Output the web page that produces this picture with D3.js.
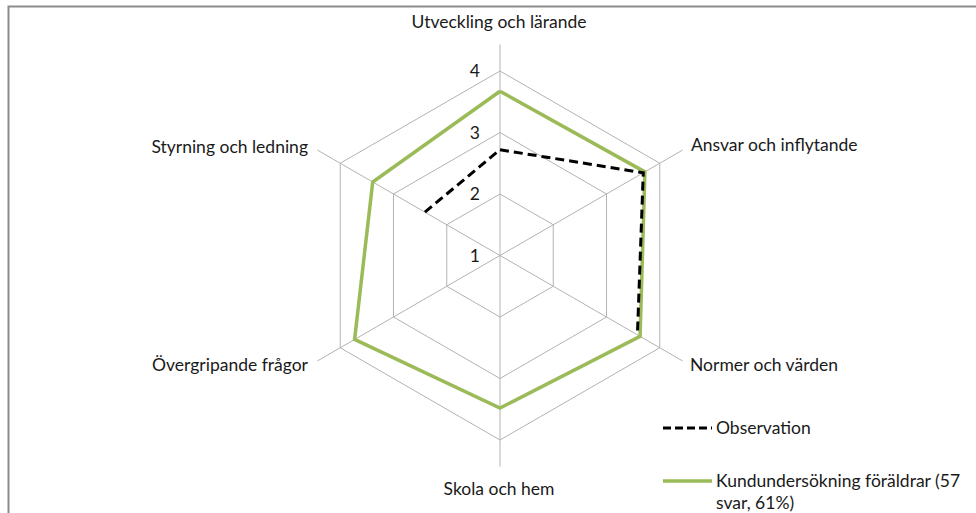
<!DOCTYPE html>
<html>
<head>
    <meta charset="utf-8">
    <title>Radar</title>
    <script src="https://d3js.org/d3.v7.min.js"></script>
    <style type="text/css">
        body{ margin:0; background:#fff; }
        text{
            font-family: Lato, "Open Sans", sans-serif;
            font-size: 17.5px;
            fill: #1a1a1a;
        }
    </style>
</head>
<body>
<script>
    var w = 976;
    var h = 513;
    var categories = ["Utveckling och lärande", "Ansvar och inflytande", "Normer och värden",
                      "Skola och hem", "Övergripande frågor", "Styrning och ledning"];
    var observation = [2.72, 3.69, 3.58, null, null, 2.41];
    var kund = [3.67, 3.72, 3.63, 3.48, 3.73, 3.39];
    var ticks = [1, 2, 3, 4];
    var seriesNames = ["Observation", "Kundundersökning föräldrar (57", "svar, 61%)"];

    var cx = 500, cy = 255.5;
    var rScale = d3.scaleLinear().domain([1, 4]).range([0, 184.5]);
    var spokeLen = 211;
    var angle = function(i){ return i * 2 * Math.PI / categories.length; };
    var px = function(i, r){ return cx + r * Math.sin(angle(i)); };
    var py = function(i, r){ return cy - r * Math.cos(angle(i)); };

    var svg = d3.select("body").append("svg")
                .attr("width", w).attr("height", h);

    // frame (cut at right and bottom)
    svg.append("rect")
        .attr("x", 8.5).attr("y", 6.5)
        .attr("width", w + 20).attr("height", h + 20)
        .attr("fill", "none").attr("stroke", "#8c8c8c").attr("stroke-width", 2);

    var grid = svg.append("g").attr("stroke", "#b3b3b3").attr("fill", "none").attr("stroke-width", 1);
    ticks.slice(1).forEach(function(t){
        grid.append("polygon")
            .attr("points", categories.map(function(c, i){
                return px(i, rScale(t)) + "," + py(i, rScale(t));
            }).join(" "));
    });
    categories.forEach(function(c, i){
        grid.append("line")
            .attr("x1", cx).attr("y1", cy)
            .attr("x2", px(i, spokeLen)).attr("y2", py(i, spokeLen));
    });

    // tick labels
    svg.selectAll("text.tick")
        .data(ticks).enter().append("text")
        .attr("class", "tick")
        .attr("x", cx - 20)
        .attr("y", function(d){ return cy - rScale(d); })
        .attr("dy", "0.35em")
        .attr("text-anchor", "end")
        .text(function(d){ return d; });

    // category labels
    var labelPos = [
        {x: 499, y: 22, a: "middle"},
        {x: 691, y: 145, a: "start"},
        {x: 690, y: 365, a: "start"},
        {x: 499, y: 489, a: "middle"},
        {x: 308, y: 365, a: "end"},
        {x: 308, y: 147, a: "end"}
    ];
    svg.selectAll("text.cat")
        .data(categories).enter().append("text")
        .attr("class", "cat")
        .attr("x", function(d, i){ return labelPos[i].x; })
        .attr("y", function(d, i){ return labelPos[i].y; })
        .attr("dy", "0.35em")
        .attr("text-anchor", function(d, i){ return labelPos[i].a; })
        .text(function(d){ return d; });

    function radarPath(values){
        var idx = d3.range(values.length).concat([0]);
        return d3.line()
            .defined(function(i){ return values[i] != null; })
            .x(function(i){ return px(i, rScale(values[i])); })
            .y(function(i){ return py(i, rScale(values[i])); })(idx);
    }

    svg.append("path")
        .attr("d", radarPath(kund))
        .attr("fill", "none").attr("stroke", "#9bbb59")
        .attr("stroke-width", 3.5).attr("stroke-linejoin", "miter");

    svg.append("path")
        .attr("d", radarPath(observation))
        .attr("fill", "none").attr("stroke", "#000")
        .attr("stroke-width", 3).attr("stroke-dasharray", "9,5");

    // legend
    var lg = svg.append("g");
    lg.append("line").attr("x1", 663).attr("x2", 712).attr("y1", 428).attr("y2", 428)
        .attr("stroke", "#000").attr("stroke-width", 3).attr("stroke-dasharray", "8,4");
    lg.append("text").attr("x", 716).attr("y", 428).attr("dy", "0.35em").text(seriesNames[0]);
    lg.append("line").attr("x1", 663).attr("x2", 712).attr("y1", 481).attr("y2", 481)
        .attr("stroke", "#9bbb59").attr("stroke-width", 3.5);
    lg.append("text").attr("x", 716).attr("y", 481).attr("dy", "0.35em").text(seriesNames[1]);
    lg.append("text").attr("x", 716).attr("y", 503).attr("dy", "0.35em").text(seriesNames[2]);
</script>
</body>
</html>
